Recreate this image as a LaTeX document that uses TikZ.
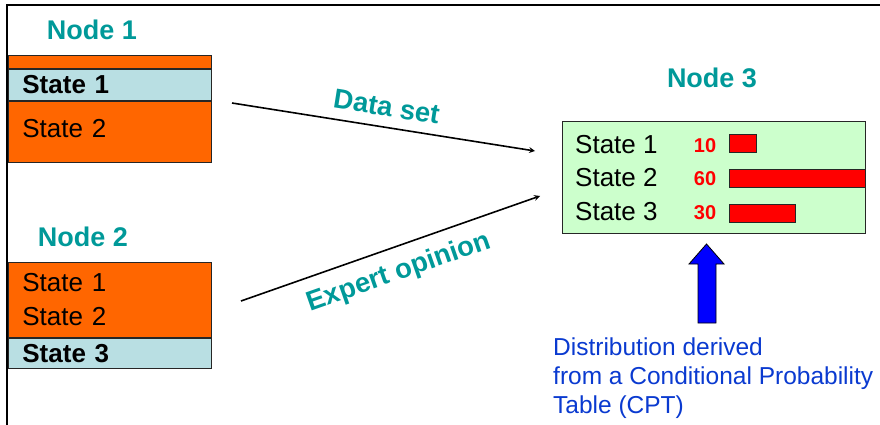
\documentclass[tikz,border=0pt]{standalone}
\usepackage{fontspec}
\setmainfont{Liberation Sans}
\usetikzlibrary{positioning}

\definecolor{labteal}{HTML}{009999}
\definecolor{stateorange}{HTML}{FF6600}
\definecolor{stateblue}{HTML}{B9DFE3}
\definecolor{cptgreen}{HTML}{CCFFCC}
\definecolor{noteblue}{HTML}{0A3AD0}

\newcommand\statefont{\fontsize{26}{31}\selectfont}

\tikzset{
  nodelab/.style={font=\fontsize{27}{32}\selectfont\bfseries, text=labteal},
  edgelab/.style={font=\fontsize{27.5}{32}\selectfont\bfseries, text=labteal, inner sep=2pt},
  row/.style={draw=black!85, line width=0.8pt, anchor=north west, minimum width=203pt,
    text width=175pt, inner xsep=14pt, inner ysep=0pt, align=left, font=\statefont},
  cpttext/.style={anchor=west, inner sep=0pt, font=\statefont},
  cptnum/.style={inner sep=0pt, font=\fontsize{20}{24}\selectfont\bfseries, text=red},
  cptbar/.style={draw=black!85, line width=0.8pt, fill=red, anchor=west, minimum height=18pt, inner sep=0pt}
}

\begin{document}
\begin{tikzpicture}[x=1pt, y=-1pt, auto]
\useasboundingbox (0,0) rectangle (880,425);
\draw[line width=2pt] (7,425) -- (7,5) -- (880,5);

\node  (lab1)[nodelab] at (92,30) {Node 1};
\node  (n1top)[row, fill=stateorange, minimum height=13pt] at (8,55) {};
\node  (n1s1)[row, fill=stateblue, minimum height=31pt, font=\statefont\bfseries] [below=0pt of n1top] {State 1};
\node  (n1s2)[row, fill=stateorange, minimum height=61pt, text depth=7pt] [below=0pt of n1s1] {State 2};

\node  (lab2)[nodelab] at (83,237) {Node 2};
\node  (n2top)[row, fill=stateorange, minimum height=75pt, font=\fontsize{26}{34}\selectfont] at (8,262) {State 1\\State 2};
\node  (n2s3)[row, fill=stateblue, minimum height=30pt, font=\statefont\bfseries] [below=0pt of n2top] {State 3};

\node  (lab3)[nodelab] at (712,78) {Node 3};
\node  (n3box)[draw=black!85, line width=0.8pt, fill=cptgreen, anchor=north west, minimum width=303pt, minimum height=112pt] at (562,121) {};
\node  (n3s1)[cpttext] at (575,145) {State 1};
\node  (n3s2)[cpttext] at (575,178) {State 2};
\node  (n3s3)[cpttext] at (575,212) {State 3};
\node  (n3v1)[cptnum] at (705,146) {10};
\node  (n3v2)[cptnum] at (705,179) {60};
\node  (n3v3)[cptnum] at (705,213) {30};
\node  (n3b1)[cptbar, minimum width=27pt] at (729,143) {};
\node  (n3b2)[cptbar, minimum width=136pt] at (729,178) {};
\node  (n3b3)[cptbar, minimum width=66pt] at (729,213) {};

\coordinate (ds0) at (232,103);
\coordinate (ds1) at (535,151);
\coordinate (eo0) at (241,301);
\coordinate (eo1) at (540,196);
\draw[arrows=-stealth, line width=1.6pt] (ds0) -- node[edgelab, above=8pt, sloped] (dslab) {Data set} (ds1);
\draw[arrows=-stealth, line width=1.6pt] (eo0) -- node[edgelab, below=10pt, sloped] (eolab) {Expert opinion} (eo1);

% block arrow from the note up to node 3
\draw[draw=black, line width=0.8pt, fill=blue] (698,323) -- (698,264) -- (689,264) -- (706.5,244) -- (724,264) -- (716,264) -- (716,323) -- cycle;
\node  (cptnote)[anchor=north west, align=left, inner sep=0pt, text=noteblue, font=\fontsize{24.5}{29}\selectfont] at (553,338) {Distribution derived\\from a Conditional Probability\\Table (CPT)};
\end{tikzpicture}
\end{document}
